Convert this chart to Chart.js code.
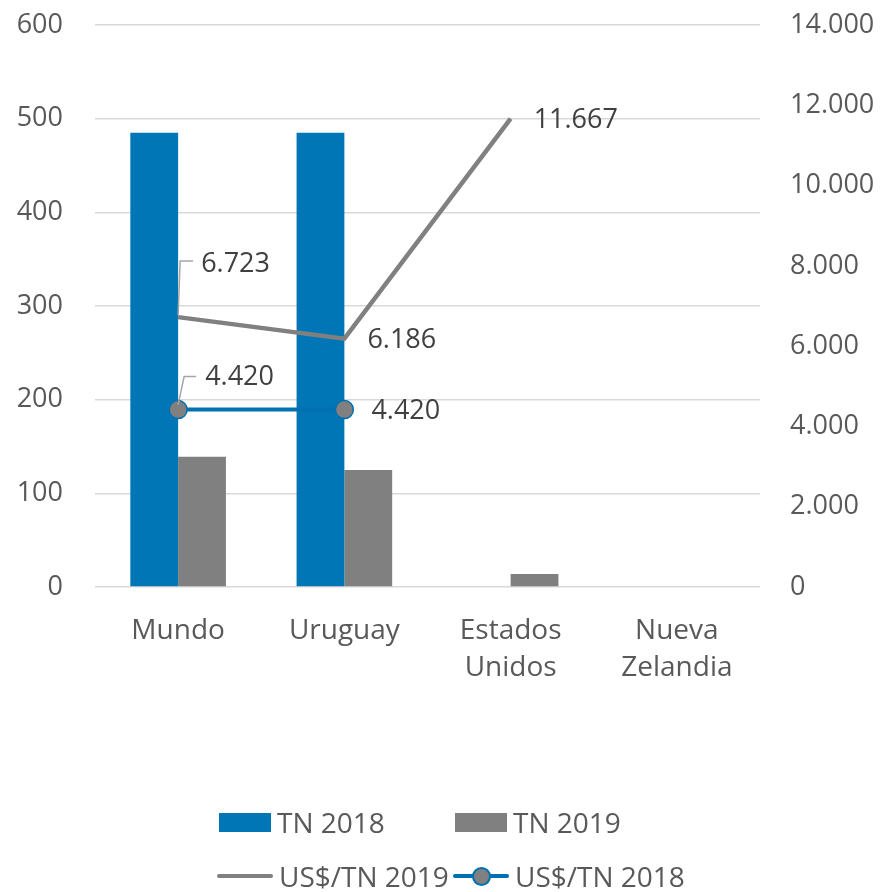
<!DOCTYPE html>
<html>
<head>
<meta charset="utf-8">
<script src="https://cdn.jsdelivr.net/npm/chart.js@4.4.1/dist/chart.umd.min.js"></script>
<style>
  body { margin: 0; background: #fff; font-family: 'Open Sans', sans-serif; }
  #wrap { position: relative; width: 882px; height: 892px; }
  #grafico { position: absolute; left: 0; top: 0; }
  .leg { position: absolute; display: flex; align-items: center; font-size: 28px; color: #595959; white-space: nowrap; }
  .caja { width: 52px; height: 19px; margin-right: 6px; }
  .linea { position: relative; width: 56px; height: 22px; margin-right: 6px; }
  .linea .trazo { position: absolute; left: 0; right: 0; top: 9px; height: 4px; border-radius: 2px; }
  .linea .punto { position: absolute; left: 19px; top: 2px; width: 15px; height: 15px; border-radius: 50%; background: #808080; border: 2px solid #0070b0; }
</style>
</head>
<body>
<div id="wrap">
  <canvas id="grafico" width="882" height="892"></canvas>
  <div class="leg" style="left:219px; top:803px;"><span class="caja" style="background:#0076b6"></span>TN 2018</div>
  <div class="leg" style="left:455px; top:803px;"><span class="caja" style="background:#808080"></span>TN 2019</div>
  <div class="leg" style="left:217px; top:857px;"><span class="linea"><span class="trazo" style="background:#808080"></span></span>US$/TN 2019</div>
  <div class="leg" style="left:453px; top:857px;"><span class="linea"><span class="trazo" style="background:#0070b0"></span><span class="punto"></span></span>US$/TN 2018</div>
</div>
<script>
const categorias = ['Mundo', 'Uruguay', ['Estados', 'Unidos'], ['Nueva', 'Zelandia']];
const tn2018 = [485, 485, 0, 0];
const tn2019 = [139, 125, 14, 0];
const usdTn2019 = [6723, 6186, 11667, null];
const usdTn2018 = [4420, 4420, null, null];

const AZUL = '#0076b6';
const GRIS = '#808080';
const TEXTO = '#595959';
const FUENTE = 'Open Sans';

function fmtMiles(n) {
  return String(Math.round(n)).replace(/\B(?=(\d{3})+(?!\d))/g, '.');
}

// etiquetas de datos estilo Excel, con línea guía en algunas
const etiquetas = {
  id: 'etiquetas',
  afterDatasetsDraw(chart, args, opts) {
    const ctx = chart.ctx;
    ctx.save();
    ctx.font = `27px "${FUENTE}"`;
    ctx.fillStyle = '#404040';
    ctx.textBaseline = 'middle';
    ctx.textAlign = 'left';
    opts.items.forEach(it => {
      const el = chart.getDatasetMeta(it.ds).data[it.i];
      const v = chart.data.datasets[it.ds].data[it.i];
      if (!el || v === null) return;
      if (it.guia) {
        ctx.strokeStyle = '#a6a6a6';
        ctx.lineWidth = 1.5;
        ctx.beginPath();
        ctx.moveTo(el.x + it.guia[0][0], el.y + it.guia[0][1]);
        for (let k = 1; k < it.guia.length; k++) ctx.lineTo(el.x + it.guia[k][0], el.y + it.guia[k][1]);
        ctx.stroke();
      }
      ctx.fillText(fmtMiles(v), el.x + it.dx, el.y + it.dy);
    });
    ctx.restore();
  }
};

// el área del gráfico se fija con layout.padding, sin margen extra por las etiquetas
const sinMargenVertical = s => { s.paddingTop = 0; s.paddingBottom = 0; };

new Chart(document.getElementById('grafico').getContext('2d'), {
  data: {
    labels: categorias,
    datasets: [
      { type: 'bar', label: 'TN 2018', data: tn2018, backgroundColor: AZUL, yAxisID: 'y', order: 2, barPercentage: 1, categoryPercentage: 0.575 },
      { type: 'bar', label: 'TN 2019', data: tn2019, backgroundColor: GRIS, yAxisID: 'y', order: 2, barPercentage: 1, categoryPercentage: 0.575 },
      { type: 'line', label: 'US$/TN 2019', data: usdTn2019, borderColor: GRIS, borderWidth: 4.5, pointRadius: 0, tension: 0, yAxisID: 'y2', order: 1 },
      { type: 'line', label: 'US$/TN 2018', data: usdTn2018, borderColor: '#0070b0', borderWidth: 4, pointRadius: 9, pointBackgroundColor: GRIS, pointBorderColor: '#0070b0', pointBorderWidth: 1.5, tension: 0, yAxisID: 'y2', order: 0 }
    ]
  },
  options: {
    responsive: false,
    animation: false,
    layout: { autoPadding: false, padding: { top: 25, bottom: 175, left: 0, right: 0 } },
    plugins: {
      legend: { display: false },
      tooltip: { enabled: false },
      etiquetas: {
        items: [
          { ds: 2, i: 0, dx: 23, dy: -53, guia: [[0, -2], [2, -56], [15, -56]] },
          { ds: 2, i: 1, dx: 23, dy: 2 },
          { ds: 2, i: 2, dx: 23, dy: 2 },
          { ds: 3, i: 0, dx: 27, dy: -32, guia: [[0, -5], [6, -33], [18, -33]] },
          { ds: 3, i: 1, dx: 27, dy: 2 }
        ]
      }
    },
    scales: {
      x: {
        grid: { display: false },
        border: { display: false },
        ticks: { color: TEXTO, font: { family: FUENTE, size: 28, lineHeight: 1.32 }, padding: 18, maxRotation: 0, autoSkip: false },
        afterFit: s => { s.height = 130; }
      },
      y: {
        position: 'left',
        min: 0, max: 600,
        ticks: { stepSize: 100, color: TEXTO, font: { family: FUENTE, size: 27 }, padding: 32 },
        grid: { color: '#d9d9d9', lineWidth: 1.5, drawTicks: false },
        border: { display: false },
        afterFit: s => { s.width = 95; sinMargenVertical(s); }
      },
      y2: {
        position: 'right',
        min: 0, max: 14000,
        ticks: { stepSize: 2000, color: TEXTO, font: { family: FUENTE, size: 27 }, padding: 30, callback: v => fmtMiles(v) },
        grid: { display: false, drawTicks: false },
        border: { display: false },
        afterFit: s => { s.width = 122; sinMargenVertical(s); }
      }
    }
  },
  plugins: [etiquetas]
});
</script>
</body>
</html>
